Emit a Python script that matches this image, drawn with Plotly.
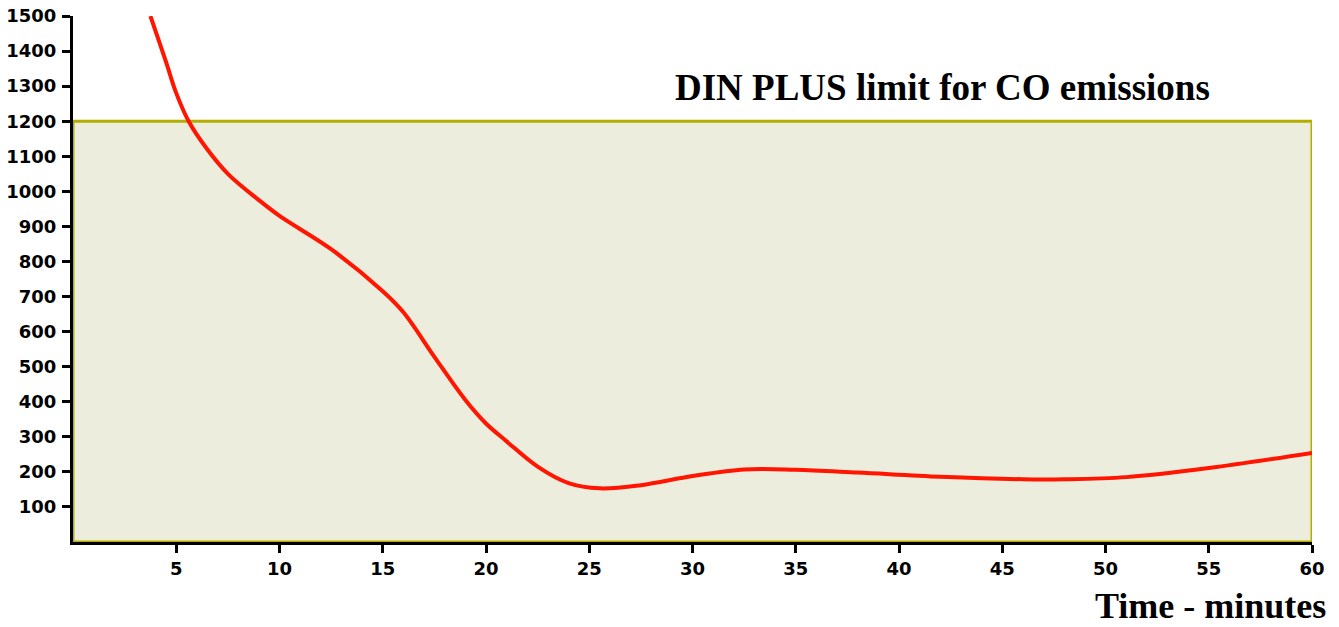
import plotly.graph_objects as go

# Data
time_min = [3.75, 4.5, 5, 5.6, 6.5, 7.5, 9, 10, 12.5, 15, 16, 17.5, 19, 20, 21, 22.5,
            24, 25.5, 27.5, 30, 32.5, 35, 38, 42, 46, 48, 51, 55, 60]
co_emission = [1500, 1370, 1280, 1200, 1120, 1050, 975, 930, 835, 715, 655, 528, 405, 338,
               287, 215, 168, 153, 162, 188, 207, 206, 198, 186, 179, 179, 185, 211, 254]
din_plus_limit = 1200
x_ticks = list(range(5, 61, 5))
y_ticks = list(range(100, 1501, 100))

fig = go.Figure()

fig.add_shape(type="rect", x0=0, x1=60, y0=0, y1=din_plus_limit,
              fillcolor="#EDEDDD", line=dict(color="#B3AE00", width=3), layer="below")

fig.add_trace(go.Scatter(x=time_min, y=co_emission, mode="lines",
                         line=dict(color="#FF1500", width=4, shape="spline", smoothing=1.0),
                         hoverinfo="skip", showlegend=False))

fig.add_annotation(x=42.1, y=1295, xref="x", yref="y", text="<b>DIN PLUS limit for CO emissions</b>",
                   showarrow=False, font=dict(family="Liberation Serif", size=37, color="black"))
fig.add_annotation(x=1.0125, y=-0.122, xref="paper", yref="paper", text="<b>Time - minutes</b>",
                   showarrow=False, xanchor="right", yanchor="middle", borderpad=0,
                   font=dict(family="Liberation Serif", size=36, color="black"))

axis_common = dict(showline=True, linecolor="black", linewidth=3, ticks="outside", ticklen=8,
                   tickwidth=3, tickcolor="black", showgrid=False, zeroline=False, automargin=False,
                   ticklabeloverflow="allow",
                   tickfont=dict(family="DejaVu Sans", size=18, color="black", weight="bold"))

fig.update_xaxes(range=[0, 60], tickvals=x_ticks, ticktext=[str(v) for v in x_ticks], **axis_common)
fig.update_yaxes(range=[0, 1500], tickvals=y_ticks, ticktext=[str(v) for v in y_ticks],
                 ticklabelstandoff=2, **axis_common)

fig.update_layout(width=1339, height=627, margin=dict(l=73, r=27, t=16, b=85, autoexpand=False),
                  plot_bgcolor="white", paper_bgcolor="white")

fig.write_html("out.html", config={"displayModeBar": False},
               post_script="document.body.style.margin='0';document.body.style.overflow='hidden';")
